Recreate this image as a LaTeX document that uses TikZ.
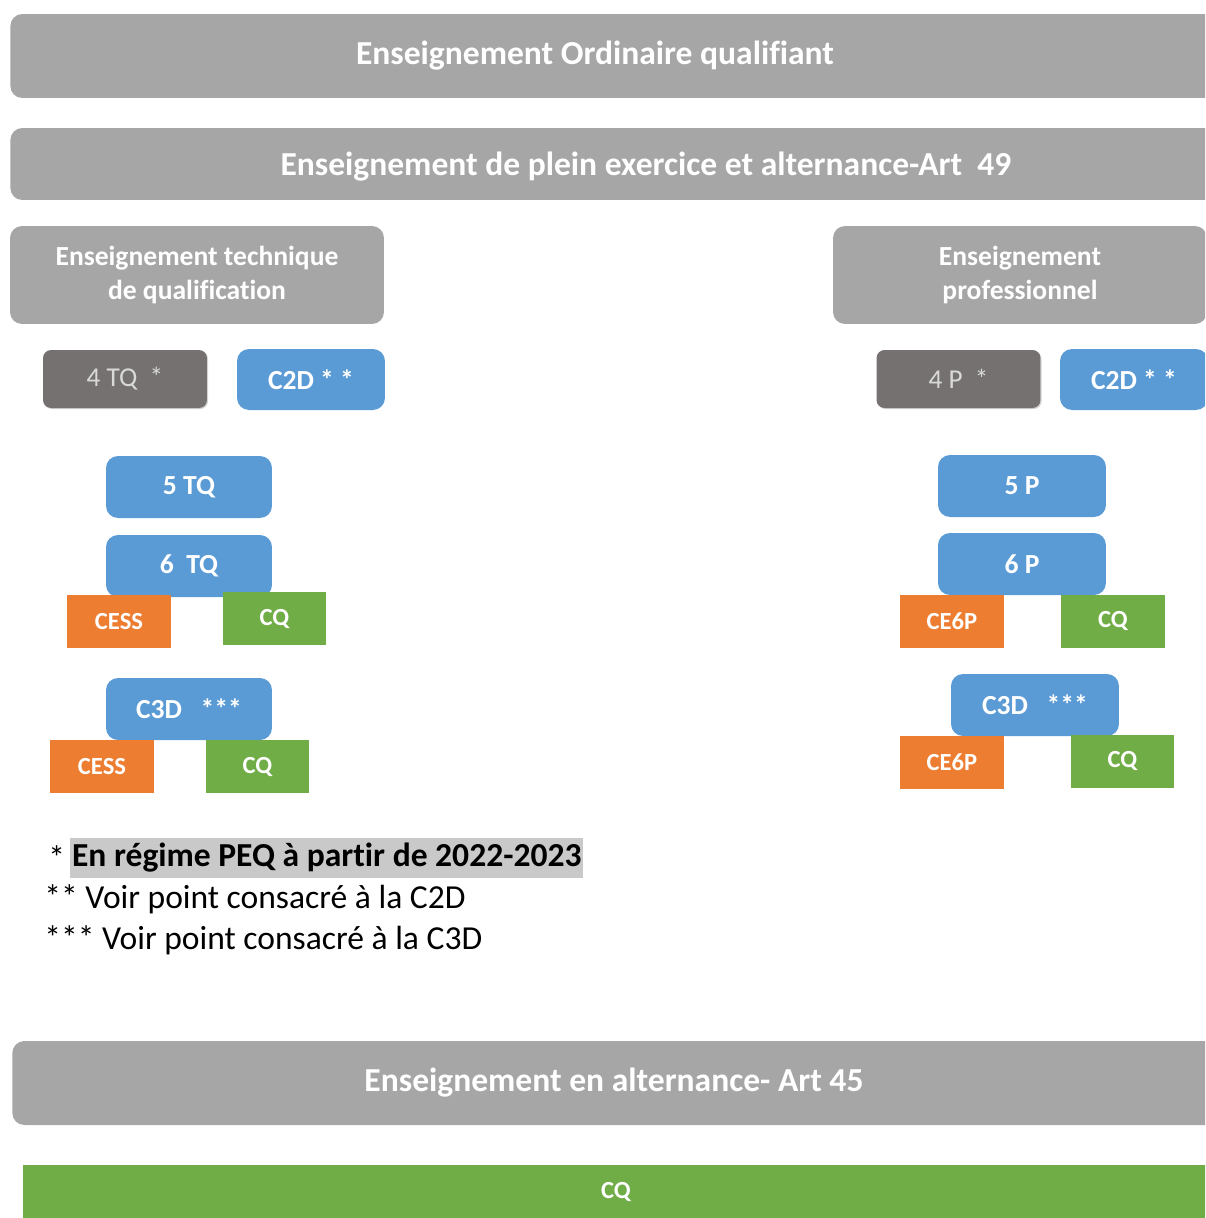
\documentclass[tikz,border=0pt]{standalone}
\usepackage{fontspec}
\setmainfont[RawFeature=-liga]{Carlito}
\usetikzlibrary{shadows}
\definecolor{bannergray}{HTML}{A6A6A6}
\definecolor{entrygray}{HTML}{767171}
\definecolor{entrytext}{HTML}{D9D9D9}
\definecolor{levelblue}{HTML}{5B9BD5}
\definecolor{certorange}{HTML}{ED7D31}
\definecolor{certgreen}{HTML}{70AD47}
\definecolor{hlgray}{HTML}{C9C9C9}
\begin{document}
\begin{tikzpicture}[x=0.02cm,y=-0.02cm,
  banner/.style={fill=bannergray, rounded corners=0.24cm, anchor=west, inner sep=0pt},
  bannertext/.style={text=white, font=\fontsize{19.1}{22}\selectfont\bfseries},
  branch/.style={fill=bannergray, rounded corners=0.24cm, minimum width=7.48cm, minimum height=1.96cm,
    text=white, align=center, font=\fontsize{15.7}{19.3}\selectfont\bfseries},
  entry/.style={fill=entrygray, rounded corners=0.16cm, minimum width=3.28cm, minimum height=1.16cm,
    text=entrytext, font=\fontsize{15.5}{18}\selectfont,
    drop shadow={shadow xshift=0.6pt, shadow yshift=-0.6pt, opacity=0.35}},
  level/.style={fill=levelblue, rounded corners=0.24cm, minimum width=3.32cm, minimum height=1.24cm,
    text=white, font=\fontsize{15.7}{18}\selectfont\bfseries},
  cert/.style={minimum width=2.08cm, minimum height=1.06cm, inner sep=0pt,
    text=white, font=\fontsize{14}{16}\selectfont\bfseries},
  cess/.style={cert, fill=certorange},
  cq/.style={cert, fill=certgreen},
  note/.style={anchor=west, inner sep=0pt, font=\fontsize{19.1}{22}\selectfont}
]
\clip (0,0) rectangle (1205,1218);
% banners
\node[banner, minimum width=24.6cm, minimum height=1.68cm] (ordinaire) at (10,56) {};
\node[bannertext] (ordinairetxt) at (595,56) {Enseignement Ordinaire qualifiant};
\node[banner, minimum width=24.6cm, minimum height=1.44cm] (pleinex) at (10,164) {};
\node[bannertext] (pleinextxt) at (646,167) {Enseignement de plein exercice et alternance-Art~ 49};
% two branches
\node[branch] (tq) at (197,275) {Enseignement technique\\de qualification};
\node[branch] (prof) at (1020,275) {Enseignement\\professionnel};
% left column
\node[entry] (tqfour) at (125,379) {4 TQ~ *};
\node[level, minimum width=2.96cm, minimum height=1.22cm] (tqcdd) at (311,379.5) {C2D * *};
\node[level] (tqfive) at (189,487) {5 TQ};
\node[level] (tqsix) at (189,566) {6~ TQ};
\node[cess] (tqsixcess) at (119,621.5) {CESS};
\node[cq] (tqsixcq) at (274.5,618.5) {CQ};
\node[level] (tqctd) at (189,709) {C3D~~ ***};
\node[cess] (tqctdcess) at (102,766.5) {CESS};
\node[cq] (tqctdcq) at (257.5,766.5) {CQ};
% right column
\node[entry] (pfour) at (958.5,379) {4 P~ *};
\node[level, minimum width=2.96cm, minimum height=1.22cm] (pcdd) at (1134,379.5) {C2D * *};
\node[level, minimum width=3.36cm] (pfive) at (1022,486) {5 P};
\node[level, minimum width=3.36cm] (psix) at (1022,564) {6 P};
\node[cess] (psixce) at (952,621) {CE6P};
\node[cq] (psixcq) at (1113,621) {CQ};
\node[level, minimum width=3.36cm] (pctd) at (1035,705) {C3D~~ ***};
\node[cess] (pctdce) at (952,762) {CE6P};
\node[cq] (pctdcq) at (1122.5,761) {CQ};
% notes
\node[note] (noteonestar) at (48,858) {*};
\node[note, fill=hlgray, minimum height=0.8cm, inner xsep=1pt, font=\fontsize{19.1}{22}\selectfont\bfseries] (noteone) at (70,858) {En régime PEQ à partir de 2022-2023};
\node[note] (notetwo) at (44,899) {** Voir point consacré à la C2D};
\node[note] (notethree) at (44,940) {*** Voir point consacré à la C3D};
% alternance
\node[banner, minimum width=24.6cm, minimum height=1.68cm] (alternance) at (12,1083) {};
\node[bannertext] (alternancetxt) at (614,1083) {Enseignement en alternance- Art 45};
\node[banner, fill=certgreen, rounded corners=0pt, minimum width=24.6cm, minimum height=1.06cm] (altcq) at (23,1191.5) {};
\node[cert] (altcqtxt) at (616,1191.5) {CQ};
\end{tikzpicture}
\end{document}
